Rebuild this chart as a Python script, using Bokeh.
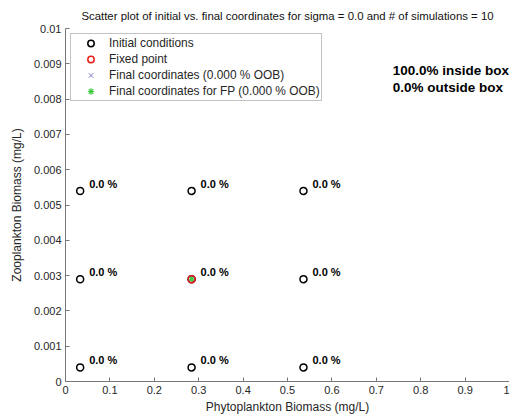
from bokeh.plotting import figure
from bokeh.models import Range1d, FixedTicker, Label, Legend, LegendItem, ColumnDataSource
from bokeh.embed import file_html
from bokeh.resources import INLINE

# Initial conditions (phytoplankton, zooplankton) on a 3x3 grid
init_x = [0.033, 0.284, 0.536, 0.033, 0.284, 0.536, 0.033, 0.284, 0.536]
init_y = [0.0004, 0.0004, 0.0004, 0.0029, 0.0029, 0.0029, 0.0054, 0.0054, 0.0054]
oob_labels = ["0.0 %"] * 9

# Fixed point and final coordinates (all runs converge to the fixed point)
fp_x = [0.284]
fp_y = [0.0029]
final_x = [0.284] * 9
final_y = [0.0029] * 9
final_fp_x = [0.284]
final_fp_y = [0.0029]

x_ticks = [0, 0.1, 0.2, 0.3, 0.4, 0.5, 0.6, 0.7, 0.8, 0.9, 1.0]
x_tick_labels = ["0", "0.1", "0.2", "0.3", "0.4", "0.5", "0.6", "0.7", "0.8", "0.9", "1"]
y_ticks = [0, 0.001, 0.002, 0.003, 0.004, 0.005, 0.006, 0.007, 0.008, 0.009, 0.01]
y_tick_labels = ["0", "0.001", "0.002", "0.003", "0.004", "0.005", "0.006",
                 "0.007", "0.008", "0.009", "0.01"]

summary_lines = ["100.0% inside box", "0.0% outside box"]
summary_x = 0.737
summary_y = [0.00882, 0.00834]

FONT = "Liberation Sans"

p = figure(width=509, height=418, output_backend="svg", toolbar_location=None,
           x_range=Range1d(0, 1), y_range=Range1d(0, 0.01),
           min_border_left=65, min_border_right=0, min_border_top=28, min_border_bottom=37)
p.outline_line_color = None
p.grid.visible = False
p.background_fill_color = "white"
p.border_fill_color = "white"

p.title.text = "Scatter plot of initial vs. final coordinates for sigma = 0.0 and # of simulations = 10"
p.title.text_font = FONT
p.title.text_font_size = "11.4px"
p.title.text_font_style = "normal"
p.title.align = "center"
p.title.text_color = "#111111"
p.title.standoff = 14

for ax in (p.xaxis[0], p.yaxis[0]):
    ax.axis_line_color = "#777777"
    ax.major_tick_line_color = "#777777"
    ax.major_tick_in = 4
    ax.major_tick_out = 0
    ax.minor_tick_line_color = None
    ax.major_label_text_font = FONT
    ax.major_label_text_font_size = "11px"
    ax.major_label_text_color = "#262626"
    ax.axis_label_text_font = FONT
    ax.axis_label_text_font_size = "12px"
    ax.axis_label_text_font_style = "normal"
    ax.axis_label_text_color = "#262626"

p.xaxis.ticker = FixedTicker(ticks=x_ticks)
p.xaxis.major_label_overrides = {t: l for t, l in zip(x_ticks, x_tick_labels)}
p.yaxis.ticker = FixedTicker(ticks=y_ticks)
p.yaxis.major_label_overrides = {t: l for t, l in zip(y_ticks, y_tick_labels)}
p.xaxis.axis_label = "Phytoplankton Biomass (mg/L)"
p.yaxis.axis_label = "Zooplankton Biomass (mg/L)"
p.xaxis.major_label_standoff = 4
p.yaxis.major_label_standoff = 4
p.xaxis.axis_label_standoff = 3
p.yaxis.axis_label_standoff = 7

init_src = ColumnDataSource(dict(x=init_x, y=init_y, lab=oob_labels))

r_init = p.scatter("x", "y", source=init_src, marker="circle", size=7,
                   fill_color=None, line_color="black", line_width=1.5)
r_fp = p.scatter(fp_x, fp_y, marker="circle", size=7,
                 fill_color=None, line_color="#e8201a", line_width=1.5)
r_final = p.scatter(final_x, final_y, marker="x", size=5,
                    line_color="#7777cc", line_width=1)
r_final_fp = p.scatter(final_fp_x, final_fp_y, marker="asterisk", size=5,
                       line_color="#44cc44", line_width=1.2)

p.text("x", "y", text="lab", source=init_src, x_offset=9, y_offset=-7,
       text_baseline="middle", text_align="left", text_font_size="11px",
       text_font_style="bold", text_color="black",
       text_font={"value": FONT})

for line, yy in zip(summary_lines, summary_y):
    p.add_layout(Label(x=summary_x, y=yy, text=line, text_font=FONT,
                       text_font_size="13.5px", text_font_style="bold",
                       text_baseline="middle", text_color="black"))

legend = Legend(items=[
    LegendItem(label="Initial conditions", renderers=[r_init]),
    LegendItem(label="Fixed point", renderers=[r_fp]),
    LegendItem(label="Final coordinates (0.000 % OOB)", renderers=[r_final]),
    LegendItem(label="Final coordinates for FP (0.000 % OOB)", renderers=[r_final_fp]),
], location="top_left")
legend.margin = 5
legend.padding = 1
legend.spacing = 0
legend.glyph_width = 37
legend.glyph_height = 16
legend.label_height = 16
legend.label_standoff = 0
legend.label_text_font = FONT
legend.label_text_font_size = "11.9px"
legend.label_text_color = "#262626"
legend.border_line_color = "#888888"
legend.border_line_width = 1
legend.background_fill_color = "white"
legend.background_fill_alpha = 1
p.add_layout(legend)

open("out.html", "w").write(file_html(p, INLINE))
